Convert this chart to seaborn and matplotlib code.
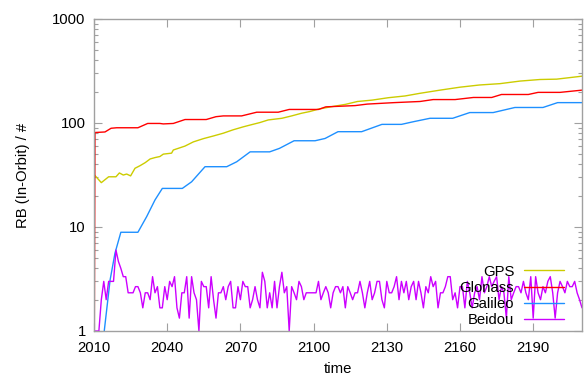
import numpy as np
import pandas as pd
import matplotlib
matplotlib.use("Agg")
import matplotlib.pyplot as plt
import seaborn as sns
from matplotlib.ticker import LogLocator, NullFormatter, FixedLocator

# ---------------- data ----------------
series_names = ["GPS", "Glonass", "Galileo", "Beidou"]
series_colors = ["#cccc00", "#ff0000", "#1e90ff", "#cc00ff"]

gps_years = [2010, 2013, 2016, 2019, 2020.4, 2022, 2023.4, 2025, 2026.8, 2028.9,
             2031, 2033, 2035, 2037, 2038.4, 2041.8, 2042.5, 2047.3, 2050.7, 2054.8,
             2058.9, 2063, 2067, 2071.2, 2074, 2078, 2081.4, 2087, 2091, 2095,
             2098.5, 2102, 2107, 2113, 2118, 2124, 2130.6, 2137.5, 2143.6, 2151.8,
             2160, 2168, 2176.4, 2184.6, 2192.8, 2199.6, 2210]
gps_values = [32, 26.7, 30.4, 30.4, 33.1, 31.6, 32.3, 31, 36.7, 38.9,
              41.6, 45.1, 46.5, 47.6, 50.2, 51.3, 55, 60, 65.8, 70.7,
              75, 79.8, 86, 91.9, 95.6, 101, 107, 111, 117, 124,
              129, 136, 143, 151, 161, 166, 175, 182, 193, 207,
              221, 232, 239, 253, 262, 264, 282]

glonass_years = [2010, 2010.4, 2014.5, 2017, 2019.3, 2028, 2032, 2037, 2038.4, 2042.5,
                 2047.3, 2056, 2060, 2063, 2070.5, 2076.7, 2085.5, 2090, 2102, 2105,
                 2117, 2122, 2133, 2143.6, 2149, 2158, 2165.5, 2173, 2177, 2188,
                 2192, 2201, 2210]
glonass_values = [0.1, 81, 82, 89, 90, 90, 99, 99, 98, 99,
                  108, 108, 115, 117, 117, 127, 127, 135, 135, 143,
                  147, 152, 157, 161, 168, 168, 176, 176, 188, 188,
                  197, 197, 207]

galileo_years = [2014.2, 2016.6, 2018.6, 2021, 2028, 2031.6, 2035, 2038, 2046.2, 2050,
                 2055.5, 2064.4, 2068.5, 2074, 2082, 2086, 2092, 2100.6, 2104.7, 2110,
                 2119.7, 2128, 2136, 2141, 2147.7, 2157, 2164, 2173.6, 2182.5, 2194,
                 2200, 2210]
galileo_values = [1, 3.1, 5.6, 8.9, 8.9, 12.6, 18.2, 23.5, 23.5, 27.2,
                  38, 38, 42.4, 52.8, 52.8, 57, 67.5, 67.5, 71, 82.5,
                  82.5, 97, 97, 103, 111, 111, 126, 126, 141, 141,
                  157, 157]

beidou_years = list(range(2010, 2211))
beidou_values = [
    1, 1, 1, 2, 3, 2, 3, 3, 3, 6,                                  # 2010
    4.67, 4, 3.33, 3.33, 2.33, 2.33, 2.33, 2.67, 2.67, 2.33,       # 2020
    1.67, 2.33, 2.33, 2, 3.33, 2.33, 2.67, 1.67, 1.67, 2.67,       # 2030
    2, 3, 2.67, 3.33, 1.67, 1.33, 2.33, 2.33, 3.33, 1.33,          # 2040
    3.33, 2.33, 2, 1, 3, 2.67, 2.67, 1.67, 3.33, 2,                # 2050
    1.33, 2.33, 2.33, 2.67, 2, 2.67, 3, 1.67, 1.67, 2.67,          # 2060
    2, 3, 2.67, 2.67, 1.67, 2, 2.67, 2, 1.67, 3.67,                # 2070
    3, 1.67, 2.33, 1.67, 3, 1.67, 2.67, 3.67, 2.33, 2.67,          # 2080
    1, 2.67, 2.33, 2, 3, 2.67, 2, 2.33, 2.33, 2.33,                # 2090
    2.33, 2.33, 3, 2, 2.33, 2.67, 2.33, 1.67, 2.33, 2.67,          # 2100
    2.67, 2.33, 2.67, 1.67, 2.67, 2.33, 2, 2.33, 2.33, 3,          # 2110
    2.33, 1.67, 2.33, 3, 2, 2.33, 3, 3, 2, 1.67,                   # 2120
    3, 2.33, 2.33, 2.67, 3.33, 2, 3, 2.33, 3, 2,                   # 2130
    2.67, 3, 2, 3, 2.33, 1.67, 2.67, 2.33, 3.33, 2.67,             # 2140
    3, 1.67, 2.33, 2.33, 2.67, 3.33, 3.33, 2, 2.33, 1.67,          # 2150
    2.67, 2.67, 1.67, 3, 2.33, 1.67, 2.33, 2.67, 2, 3.33,          # 2160
    2.33, 2.67, 3.33, 2.67, 3, 3.33, 2, 2.67, 2.33, 1.33,          # 2170
    3.33, 2, 2.33, 2.67, 2.67, 2.33, 3, 2.33, 2, 3.33,             # 2180
    1.33, 3.33, 2.33, 2, 2.67, 2.33, 3, 3.33, 2.33, 1.33,          # 2190
    2.33, 3, 2.67, 2.33, 3, 2.67, 2.67, 3, 2.33, 2, 1.67,          # 2200
]

x_ticks = [2010, 2040, 2070, 2100, 2130, 2160, 2190]
y_ticks = [1, 10, 100, 1000]
x_label = "time"
y_label = "RB (In-Orbit) / #"

# ---------------- build long table ----------------
frames = []
for name, xs, ys in [("GPS", gps_years, gps_values),
                     ("Glonass", glonass_years, glonass_values),
                     ("Galileo", galileo_years, galileo_values),
                     ("Beidou", beidou_years, beidou_values)]:
    frames.append(pd.DataFrame({"year": xs, "value": ys, "series": name}))
df = pd.concat(frames, ignore_index=True)

# ---------------- style ----------------
sns.set_theme(style="white")
plt.rcParams["font.family"] = ["Liberation Sans", "DejaVu Sans"]
FS = 10.7
plt.rcParams["font.size"] = FS

fig = plt.figure(figsize=(5.87, 3.79), dpi=100)
ax = fig.add_axes([94 / 587, 48 / 379, (582 - 94) / 587, (331 - 19) / 379])

sns.lineplot(data=df, x="year", y="value", hue="series", hue_order=series_names,
             palette=series_colors, ax=ax, linewidth=1.0, estimator=None,
             sort=False, legend=True)

ax.set_yscale("log")
ax.set_xlim(2010, 2210)
ax.set_ylim(1, 1000)

ax.xaxis.set_major_locator(FixedLocator(x_ticks))
ax.set_xticklabels([str(t) for t in x_ticks])
ax.yaxis.set_major_locator(FixedLocator(y_ticks))
ax.set_yticklabels([str(t) for t in y_ticks])
ax.yaxis.set_minor_locator(LogLocator(base=10, subs=np.arange(2, 10)))
ax.yaxis.set_minor_formatter(NullFormatter())

spine_col = "#a0a0a0"
for s in ax.spines.values():
    s.set_color(spine_col)
    s.set_linewidth(1.0)

ax.tick_params(axis="both", which="both", direction="in", colors=spine_col,
               labelcolor="black", labelsize=FS, top=True, right=True,
               bottom=True, left=True)
ax.tick_params(axis="both", which="major", length=6, width=0.8)
ax.tick_params(axis="x", which="major", pad=7.5)
ax.tick_params(axis="y", which="major", pad=6)
ax.tick_params(axis="y", which="minor", length=3, width=0.8)

ax.set_xlabel(x_label, fontsize=FS, color="black", labelpad=5)
ax.set_ylabel(y_label, fontsize=FS, color="black", labelpad=16)

handles, labels = ax.get_legend_handles_labels()
leg = ax.legend(handles, labels, loc="lower right", bbox_to_anchor=(0.963, 0.012),
                frameon=False, markerfirst=False,
                handlelength=2.7, handletextpad=0.65, labelspacing=0.15,
                borderaxespad=0.0, borderpad=0.0, fontsize=FS)
for t in leg.get_texts():
    t.set_color("black")

fig.savefig("out.png", dpi=100)
